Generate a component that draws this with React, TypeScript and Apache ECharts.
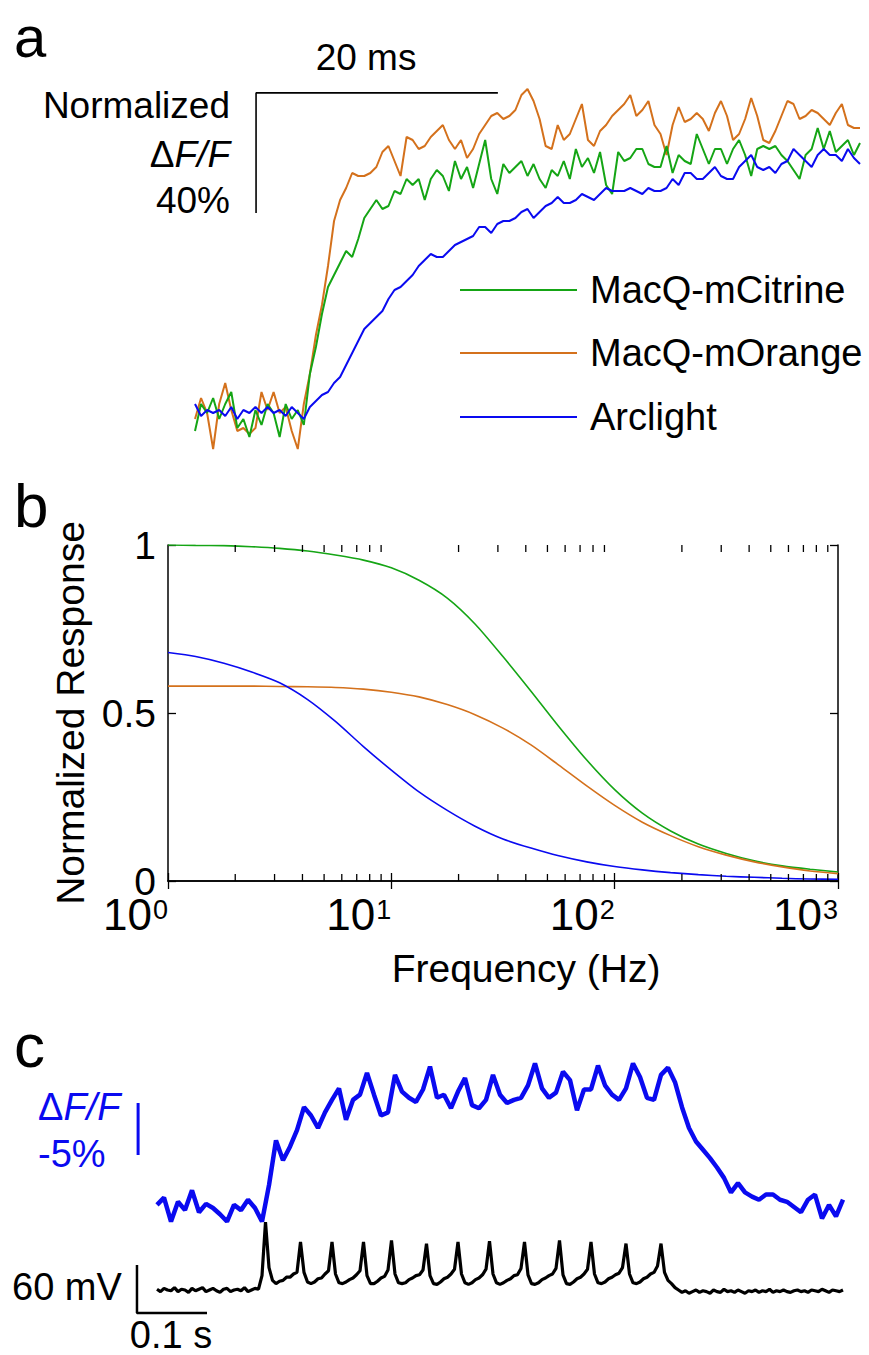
import React, { useEffect, useRef } from 'react';
import * as echarts from 'echarts';

const FONT = '"Liberation Sans", Arial, Helvetica, sans-serif';
const GREEN = '#15a515';
const ORANGE = '#d4711c';
const BLUE = '#0a0af0';
const BLACK = '#000000';

// ---------- panel a : normalized step responses (time in ms, value in % of plateau) ----------
const A_DT = 0.5; // ms between samples
const orangeA = [-3,4,-1,-13,2,9,0,-7,-6,-8,-6,6,0,6,-1,1,-7,-13,2,12,25,35,48,63,70,74,79,78,78,79,81,86,88,83,78,91,90,87,88,91,93,95,90,87,90,84,87,92,95,98,99,97,98,100,105,107,103,97,88,87,95,90,92,97,102,90,88,93,95,98,100,102,105,98,100,103,95,92,85,95,101,96,97,99,97,93,99,103,98,90,92,97,104,98,90,89,93,98,103,102,97,98,100,99,97,95,99,102,95,94,94];
const greenA = [-7,2,-1,4,-3,2,6,-6,-3,-9,0,-5,2,-1,-9,2,-3,0,-5,12,21,32,41,45,49,53,51,57,64,67,70,67,68,73,72,77,75,77,70,77,80,78,73,83,77,81,74,82,90,77,72,82,79,81,83,78,82,77,74,80,78,83,77,87,81,84,79,86,75,72,86,83,84,87,87,82,81,81,88,79,85,83,82,92,87,82,87,87,82,87,90,85,78,87,88,87,88,85,83,80,77,85,87,94,87,93,86,88,90,85,89];
const blueA = [2,-2,0,-1,0,-2,1,-3,0,-1,1,-1,1,-1,0,-2,1,-1,-3,1,3,5,6,9,11,15,19,23,27,29,31,33,37,40,41,43,45,48,50,52,51,51,53,55,56,57,58,61,61,59,62,63,63,64,66,67,64,66,68,69,71,69,69,70,72,71,70,72,74,73,73,73,74,73,72,74,73,73,74,77,75,79,79,77,77,79,81,78,77,77,81,83,85,81,80,81,79,82,83,87,85,83,81,85,87,85,85,83,87,84,82];
const scaleBarA = { t0: 5.05, t1: 25.05, top: 105.7, bottom: 65.7 }; // 20 ms, 40 %
const legendNames = ['MacQ-mCitrine', 'MacQ-mOrange', 'Arclight'];

// ---------- panel b : frequency response ----------
const freqB = [1, 1.33, 1.78, 2.37, 3.16, 4.22, 5.62, 7.5, 10, 13.3, 17.8, 23.7, 31.6, 42.2, 56.2, 75, 100, 133, 178, 237, 316, 422, 562, 750, 1000];
const greenB = [1.0, 0.999, 0.998, 0.995, 0.99, 0.982, 0.97, 0.955, 0.932, 0.895, 0.842, 0.765, 0.668, 0.565, 0.46, 0.36, 0.272, 0.202, 0.149, 0.11, 0.082, 0.06, 0.045, 0.035, 0.027];
const orangeB = [0.58, 0.58, 0.58, 0.58, 0.579, 0.578, 0.576, 0.571, 0.562, 0.548, 0.525, 0.495, 0.455, 0.405, 0.345, 0.283, 0.225, 0.175, 0.135, 0.102, 0.077, 0.057, 0.042, 0.03, 0.022];
const blueB = [0.68, 0.668, 0.648, 0.622, 0.59, 0.54, 0.475, 0.4, 0.33, 0.265, 0.21, 0.163, 0.125, 0.098, 0.075, 0.057, 0.043, 0.033, 0.025, 0.019, 0.014, 0.011, 0.008, 0.006, 0.005];
const minorTickFreqs = [2,3,4,5,6,7,8,9,20,30,40,50,60,70,80,90,200,300,400,500,600,700,800,900];

// ---------- panel c : spike train (time in s) ----------
const C_DT_BLUE = 0.01;
const blueC = [0.2,0.9,-1.4,0.5,-0.3,1.6,-0.5,0.3,-0.1,-0.7,-1.4,0.2,-0.3,0.7,-0.1,-1.4,2.1,6.4,4.5,5.8,7.4,9.6,8.8,7.6,9.1,10.3,11.4,8.4,10.3,10.8,12.9,10.8,8.8,9.1,12.7,11.1,10.5,10.1,11.3,13.5,10.5,10.8,9.5,11.1,12.4,9.8,9.5,10.3,12.7,10.8,10.0,10.3,10.5,11.7,13.8,11.4,10.5,11.0,13.0,12.2,9.3,11.3,11.3,13.6,11.7,10.8,10.3,11.4,13.8,12.5,10.5,10.3,12.7,13.4,12.0,9.6,7.6,6.3,5.5,4.7,3.8,2.8,1.4,2.3,1.4,1.0,0.7,1.2,1.2,0.7,0.5,0.0,-0.5,0.7,1.2,-1.1,0.2,-0.9,0.7];
const C_DT_BLACK = 0.005;
const blackC = [
  1,-2,2,0,-1,3,-2,1,0,-3,2,-1,1,3,-2,0,2,-1,-3,1,2,-2,0,1,-1,3,-2,0,2,1,
  18,85,28,12,
  8,11,12,16,16,20,22, 60,
  22,10,8,10,14,15,20,24, 60,
  20,9,8,10,13,15,19,24, 60,
  18,8,8,11,15,17,25, 62,
  20,9,8,9,13,15,18,19,25, 58,
  18,8,7,10,14,16,20,26, 60,
  20,9,7,9,13,15,19,26, 61,
  20,9,7,9,12,14,18,19,27, 60,
  19,8,7,9,13,15,18,20,27, 62,
  19,8,7,10,14,16,20,26, 60,
  20,9,8,10,14,16,19,21,28, 58,
  20,9,8,10,14,16,20,22,30, 58,
  22,12,8,3,0,
  -3,-1,-4,-2,0,-3,-1,-2,-4,0,-2,-3,1,-2,-1,-3,0,-2,-4,-1,-2,0,-3,-1,-2,1,-3,-1,-2,0,-2,-3,-1,0,-2,-1,-3,0,-1,-2,1,-1,-3,0,-1,-2,0
];
const scaleBarCBlue = { t: -0.027, bottom: 5, top: 10 }; // -5 %
const scaleBarCBlack = { t0: -0.0286, t1: 0.0714, bottom: -28.75, top: 31.25 }; // 60 mV, 0.1 s

const lineSeries = (data: number[][], color: string, width: number, xi: number, yi: number, extra: any = {}) => ({
  type: 'line', data, xAxisIndex: xi, yAxisIndex: yi, showSymbol: false, symbol: 'none',
  lineStyle: { color, width }, itemStyle: { color }, silent: true, z: 3, ...extra,
});

const txt = (text: string, x: number, y: number, o: any = {}) => ({
  type: 'text', x, y, silent: true,
  style: { text, fill: '#000', fontSize: 37, fontFamily: FONT, align: 'left', verticalAlign: 'middle', ...o },
});

const minorTickSeries = (edgeValue: number, dir: number) => ({
  type: 'custom', xAxisIndex: 1, yAxisIndex: 1, silent: true, z: 20, clip: false,
  data: minorTickFreqs.map((f) => [f, edgeValue]),
  renderItem: (params: any, api: any) => {
    const p = api.coord([api.value(0), edgeValue]);
    return { type: 'line', z2: 100, shape: { x1: p[0], y1: p[1], x2: p[0], y2: p[1] + dir * 7 }, style: { stroke: '#000', lineWidth: 1.3 } };
  },
});

function buildOption(): any {
  const sA = (arr: number[]) => arr.map((v, i) => [i * A_DT, v]);
  const legendY = [290, 353, 417];
  const legendColors = [GREEN, ORANGE, BLUE];
  const graphic: any[] = [
    txt('a', 14, 36, { fontSize: 58 }),
    txt('20 ms', 366, 57, { align: 'center' }),
    txt('Normalized', 230, 105, { align: 'right' }),
    txt('{n|Δ}{i|F/F}', 230, 154, {
      align: 'right',
      rich: { n: { fontSize: 37, fontFamily: FONT, fill: '#000' }, i: { fontSize: 37, fontFamily: FONT, fontStyle: 'italic', fill: '#000' } },
    }),
    txt('40%', 230, 200, { align: 'right' }),
    txt('b', 14, 505, { fontSize: 62 }),
    txt('c', 14, 1045, { fontSize: 62 }),
    txt('{n|Δ}{i|F/F}', 38, 1107, {
      fill: BLUE,
      rich: { n: { fontSize: 38, fontFamily: FONT, fill: BLUE }, i: { fontSize: 38, fontFamily: FONT, fontStyle: 'italic', fill: BLUE } },
    }),
    txt('-5%', 38, 1154, { fill: BLUE, fontSize: 38 }),
    txt('60 mV', 12, 1287, { fontSize: 38 }),
    txt('0.1 s', 171, 1335, { fontSize: 38, align: 'center' }),
  ];
  legendNames.forEach((name, i) => {
    graphic.push({ type: 'line', silent: true, shape: { x1: 460, y1: legendY[i], x2: 577, y2: legendY[i] }, style: { stroke: legendColors[i], lineWidth: 2 } });
    graphic.push(txt(name, 590, legendY[i], { fontSize: 38 }));
  });

  const boxAxisLine = { show: true, lineStyle: { color: '#000', width: 1.5 } };
  const inTick = { show: true, inside: true, length: 8, lineStyle: { color: '#000', width: 1.3 } };

  return {
    animation: false,
    backgroundColor: '#fff',
    graphic,
    grid: [
      { left: 195, top: 80, width: 665, height: 390 },
      { left: 168, top: 545, width: 670, height: 336 },
      { left: 129, top: 1040.6, width: 728, height: 280.8 },
    ],
    xAxis: [
      { gridIndex: 0, type: 'value', min: 0, max: 55, show: false },
      {
        gridIndex: 1, type: 'log', logBase: 10, min: 1, max: 1000, position: 'bottom',
        axisLine: boxAxisLine, axisTick: inTick, splitLine: { show: false },
        name: 'Frequency (Hz)', nameLocation: 'middle', nameGap: 68,
        nameTextStyle: { fontSize: 39, fontFamily: FONT, color: '#000', padding: [0, 0, 0, 46] },
        axisLabel: {
          show: true, showMinLabel: true, showMaxLabel: true, margin: 15, align: 'right', color: '#000',
          formatter: (v: number) => `{b|10}{s|${Math.round(Math.log10(v))}}`,
          rich: {
            b: { fontSize: 44, fontFamily: FONT, color: '#000', lineHeight: 40, verticalAlign: 'bottom' },
            s: { fontSize: 27, fontFamily: FONT, color: '#000', lineHeight: 40, verticalAlign: 'top', padding: [0, 0, 0, 1] },
          },
        },
      },
      {
        gridIndex: 1, type: 'log', logBase: 10, min: 1, max: 1000, position: 'top',
        axisLine: boxAxisLine, axisTick: inTick, axisLabel: { show: false }, splitLine: { show: false },
      },
      { gridIndex: 2, type: 'value', min: -0.04, max: 1.0, show: false },
    ],
    yAxis: [
      { gridIndex: 0, type: 'value', min: -20, max: 110, show: false },
      {
        gridIndex: 1, type: 'value', min: 0, max: 1, interval: 0.5, position: 'left',
        axisLine: boxAxisLine, axisTick: inTick, splitLine: { show: false },
        axisLabel: { show: true, margin: 12, color: '#000', fontSize: 39, lineHeight: 24, fontFamily: FONT, formatter: (v: number) => (v === 0.5 ? '0.5' : String(v)) },
        name: 'Normalized Response', nameLocation: 'middle', nameGap: 78,
        nameTextStyle: { fontSize: 39, fontFamily: FONT, color: '#000' },
      },
      {
        gridIndex: 1, type: 'value', min: 0, max: 1, interval: 0.5, position: 'right',
        axisLine: boxAxisLine, axisTick: inTick, axisLabel: { show: false }, splitLine: { show: false },
      },
      { gridIndex: 2, type: 'value', min: -11, max: 16, show: false },
      { gridIndex: 2, type: 'value', min: -39.25, max: 311.75, show: false },
    ],
    series: [
      // panel a
      lineSeries(sA(orangeA), ORANGE, 2, 0, 0),
      lineSeries(sA(greenA), GREEN, 2, 0, 0),
      lineSeries(sA(blueA), BLUE, 2, 0, 0),
      lineSeries([[scaleBarA.t0, scaleBarA.bottom], [scaleBarA.t0, scaleBarA.top], [scaleBarA.t1, scaleBarA.top]], BLACK, 1.6, 0, 0),
      // panel b
      lineSeries(freqB.map((f, i) => [f, greenB[i]]), GREEN, 1.6, 1, 1, { smooth: 0.25 }),
      lineSeries(freqB.map((f, i) => [f, orangeB[i]]), ORANGE, 1.6, 1, 1, { smooth: 0.25 }),
      lineSeries(freqB.map((f, i) => [f, blueB[i]]), BLUE, 1.6, 1, 1, { smooth: 0.25 }),
      minorTickSeries(0, -1),
      minorTickSeries(1, 1),
      // panel c
      lineSeries(blueC.map((v, i) => [i * C_DT_BLUE, v]), BLUE, 4.5, 3, 3),
      lineSeries(blackC.map((v, i) => [i * C_DT_BLACK, v]), BLACK, 3.2, 3, 4),
      lineSeries([[scaleBarCBlue.t, scaleBarCBlue.bottom], [scaleBarCBlue.t, scaleBarCBlue.top]], BLUE, 3, 3, 3),
      lineSeries([[scaleBarCBlack.t0, scaleBarCBlack.top], [scaleBarCBlack.t0, scaleBarCBlack.bottom], [scaleBarCBlack.t1, scaleBarCBlack.bottom]], BLACK, 2.5, 3, 4),
    ],
  };
}

export default function App() {
  const ref = useRef<HTMLDivElement>(null);
  useEffect(() => {
    if (!ref.current) return;
    const chart = echarts.init(ref.current, null, { renderer: 'svg' });
    chart.setOption(buildOption());
    return () => chart.dispose();
  }, []);
  return (
    <div
      ref={ref}
      style={{ position: 'absolute', left: 0, top: 0, width: 869, height: 1355, background: '#fff' }}
    />
  );
}
